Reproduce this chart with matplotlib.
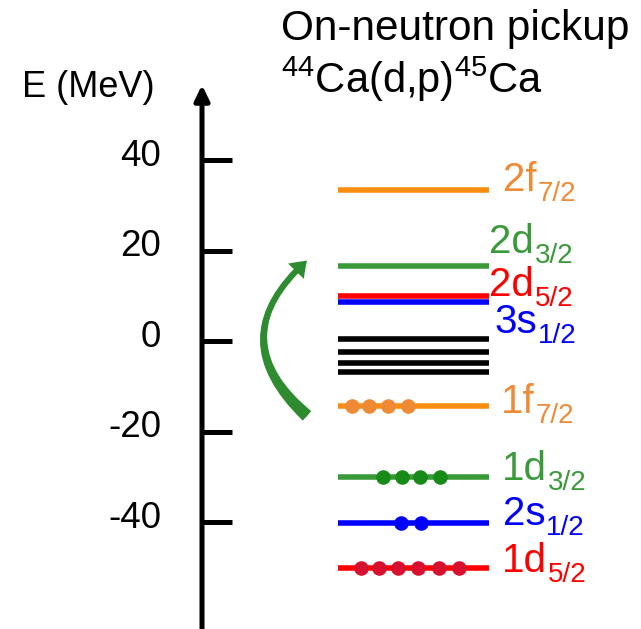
from pathlib import Path

import matplotlib

matplotlib.use("Agg")

import matplotlib.pyplot as plt
from matplotlib.patches import FancyArrowPatch


plt.rcParams["font.family"] = "Liberation Sans"
plt.rcParams["mathtext.fontset"] = "custom"
plt.rcParams["mathtext.rm"] = "Liberation Sans"
plt.rcParams["mathtext.it"] = "Liberation Sans:italic"
plt.rcParams["mathtext.bf"] = "Liberation Sans:bold"


# single-particle levels (MeV)
orbit_main = ["2f", "2d", "2d", "3s", "1f", "1d", "2s", "1d"]
orbit_sub = ["7/2", "3/2", "5/2", "1/2", "7/2", "3/2", "1/2", "5/2"]
orbit_energy = [33.4, 16.6, 10.0, 8.75, -14.3, -30.1, -40.1, -50.2]
orbit_label_y = [33.2, 19.4, 9.9, 1.8, -15.8, -30.7, -40.6, -50.9]
orbit_label_x = [503, 489, 489, 494, 501, 502, 503, 502]
orbit_line_color = [
    "#F98E11", "#3A9A3A", "#FF0000", "#0000FF",
    "#F98E11", "#3A9A3A", "#0000FF", "#FF0000",
]
orbit_text_color = [
    "#EF8A37", "#3A9A3A", "#FF0000", "#0000FF",
    "#EF8A37", "#3A9A3A", "#0000FF", "#FF0000",
]

# dense levels around threshold
black_levels = [0.4, -2.4, -4.9, -6.8]

# occupied neutrons, index of level -> positions along the line
occupied = {
    4: [351.7, 369.3, 388.3, 408.3],
    5: [383.3, 401.7, 420.0, 440.0],
    6: [400.7, 420.7],
    7: [360.7, 379.3, 398.3, 417.7, 439.0, 459.3],
}
dot_color = {
    4: "#EE8A35",
    5: "#178A17",
    6: "#0000FF",
    7: "#D7102F",
}

tick_values = [40, 20, 0, -20, -40]


LINE_X0 = 338
LINE_X1 = 489
AXIS_X = 202


def draw_levels(ax):

    for e, col in zip(orbit_energy, orbit_line_color):
        ax.plot(
            [LINE_X0, LINE_X1],
            [e, e],
            color=col,
            lw=4.0,
            solid_capstyle="butt",
            zorder=2,
        )

    for e in black_levels:
        ax.plot(
            [LINE_X0, LINE_X1],
            [e, e],
            color="black",
            lw=4.0,
            solid_capstyle="butt",
            zorder=2,
        )

    for i, xs in occupied.items():
        ax.plot(
            xs,
            [orbit_energy[i]] * len(xs),
            "o",
            color=dot_color[i],
            markersize=10.5,
            markeredgewidth=0,
            zorder=3,
        )

    for main, sub, x, y, col in zip(
        orbit_main, orbit_sub, orbit_label_x, orbit_label_y, orbit_text_color
    ):
        t = ax.text(
            x,
            y,
            main,
            color=col,
            fontsize=29,
            ha="left",
            va="baseline",
        )
        ax.annotate(
            sub,
            xy=(1, 0),
            xycoords=t,
            xytext=(0.5, -5.8),
            textcoords="offset points",
            color=col,
            fontsize=20,
            ha="left",
            va="bottom",
        )


def draw_axis(ax):

    ax.add_patch(
        FancyArrowPatch(
            (AXIS_X, -64),
            (AXIS_X, 56.6),
            arrowstyle="-|>,head_length=0.45,head_width=0.22",
            mutation_scale=20,
            lw=3.6,
            color="black",
            shrinkA=0,
            shrinkB=0,
        )
    )

    ax.hlines(
        tick_values,
        AXIS_X,
        232,
        colors="black",
        lw=3.6,
    )

    for v in tick_values:
        ax.annotate(
            str(v),
            xy=(161, v),
            xytext=(0, 3),
            textcoords="offset points",
            ha="right",
            va="center",
            fontsize=26.5,
        )

    ax.text(
        22,
        54.0,
        "E (MeV)",
        fontsize=26,
        ha="left",
        va="baseline",
    )


def draw_titles(ax):

    ax.text(
        281,
        66.5,
        "On-neutron pickup",
        fontsize=30.5,
        ha="left",
        va="baseline",
    )

    ax.text(
        281,
        54.9,
        r"$^{44}$Ca(d,p)$^{45}$Ca",
        fontsize=30,
        ha="left",
        va="baseline",
    )


def draw_transfer_arrow(ax):

    tail = (307, -16.5)
    tip = (307, 17.8)
    bend = "arc3,rad=-0.56"
    green = "#2E8B30"

    # tapered body, wide at the lower end
    ax.add_patch(
        FancyArrowPatch(
            tail,
            tip,
            connectionstyle=bend,
            arrowstyle="wedge,tail_width=0.42,shrink_factor=0.55",
            mutation_scale=22,
            color=green,
            lw=0,
            shrinkA=0,
            shrinkB=4,
        )
    )

    # head on a thin shaft along the same curve
    ax.add_patch(
        FancyArrowPatch(
            tail,
            tip,
            connectionstyle=bend,
            arrowstyle="simple,head_length=0.5,head_width=0.72,tail_width=0.2",
            mutation_scale=22,
            color=green,
            lw=0,
            shrinkA=0,
            shrinkB=0,
        )
    )


def draw_chart(path: Path) -> Path:

    fig = plt.figure(
        figsize=(6.41, 6.29),
        dpi=100,
    )

    ax = fig.add_axes([0, 0, 1, 1])
    ax.set_xlim(0, 641)
    ax.set_ylim(-63.6, 75.4)
    ax.axis("off")

    draw_axis(ax)
    draw_levels(ax)
    draw_titles(ax)
    draw_transfer_arrow(ax)

    fig.savefig(path, dpi=100)
    plt.close(fig)

    return path


draw_chart(Path("out.png"))
